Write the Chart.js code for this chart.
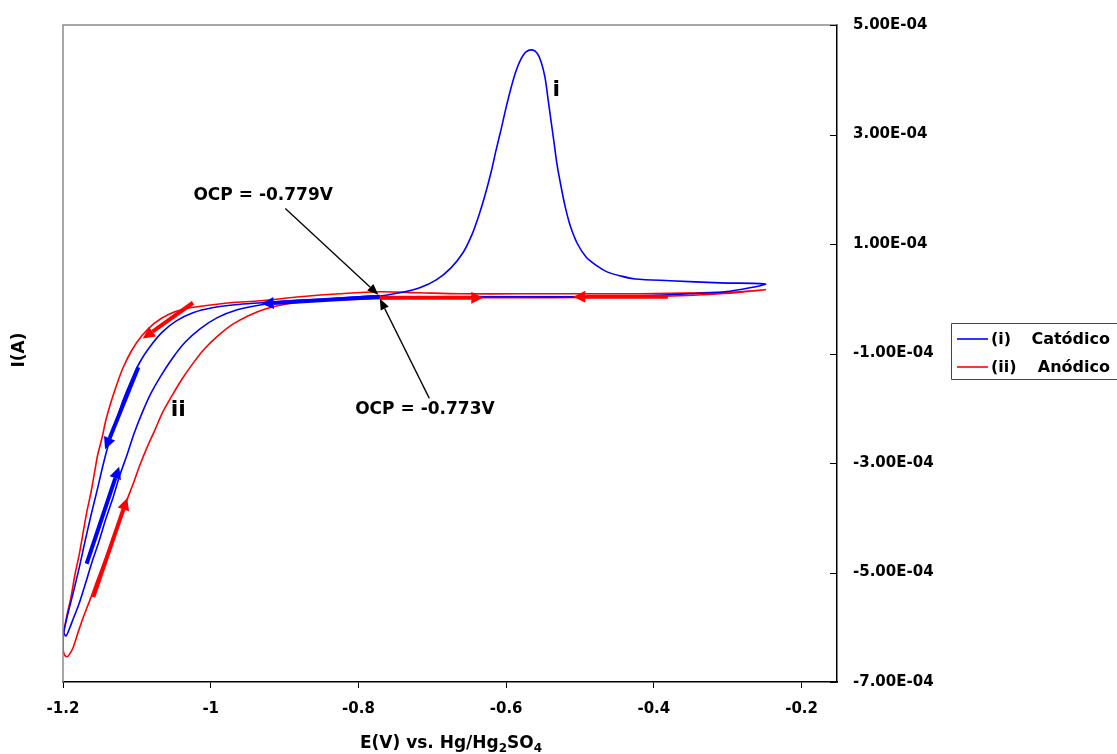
<!DOCTYPE html>
<html>
<head>
<meta charset="utf-8">
<script src="https://cdn.jsdelivr.net/npm/chart.js@4.4.1/dist/chart.umd.min.js"></script>
<style>
  html, body { margin: 0; padding: 0; background: #fff; }
</style>
</head>
<body>
<canvas id="cvChart" width="1117" height="754"></canvas>
<script>
// E (V vs Hg/Hg2SO4) and I (A)
// (i) cathodic run: OCP -> -1.2 V -> -0.25 V -> back
const catE = [-0.779, -0.838, -0.893, -0.931, -0.967, -0.998, -1.024, -1.046, -1.065, -1.081,
  -1.096, -1.108, -1.119, -1.128, -1.138, -1.146, -1.154, -1.162, -1.170, -1.178,
  -1.186, -1.193, -1.197, -1.199, -1.196,
  -1.192, -1.186, -1.178, -1.170, -1.161, -1.151, -1.142, -1.132, -1.123, -1.113,
  -1.104, -1.093, -1.081, -1.067, -1.052, -1.035, -1.014, -0.991, -0.964, -0.931,
  -0.893, -0.838, -0.779, -0.744, -0.717, -0.694, -0.675, -0.658, -0.646, -0.6367,
  -0.6286, -0.6204, -0.6137, -0.6069, -0.6001, -0.5934, -0.5866, -0.5798, -0.5731, -0.5649,
  -0.5582, -0.5527, -0.5473, -0.5433, -0.5392, -0.5351, -0.5311, -0.5257, -0.5202, -0.5135,
  -0.5040, -0.4918, -0.4769, -0.4634, -0.446, -0.425, -0.378, -0.310, -0.249,
  -0.270, -0.304, -0.351, -0.419, -0.500, -0.581, -0.662];
const catI = [5.5e-6, 0, -3.6e-6, -7.3e-6, -1.09e-5, -1.64e-5, -2.55e-5, -4.0e-5, -6.0e-5, -8.55e-5,
  -1.16e-4, -1.51e-4, -1.87e-4, -2.24e-4, -2.64e-4, -3.05e-4, -3.51e-4, -3.95e-4, -4.42e-4, -4.91e-4,
  -5.36e-4, -5.73e-4, -5.96e-4, -6.09e-4, -6.16e-4,
  -6.05e-4, -5.84e-4, -5.56e-4, -5.22e-4, -4.82e-4, -4.42e-4, -4.02e-4, -3.62e-4, -3.22e-4, -2.84e-4,
  -2.47e-4, -2.09e-4, -1.73e-4, -1.40e-4, -1.09e-4, -8.0e-5, -5.45e-5, -3.45e-5, -2.0e-5, -1.09e-5,
  -5.5e-6, -1.8e-6, 3.6e-6, 1.09e-5, 2.0e-5, 3.5e-5, 5.6e-5, 8.5e-5, 1.18e-4, 1.53e-4,
  1.89e-4, 2.31e-4, 2.71e-4, 3.09e-4, 3.49e-4, 3.85e-4, 4.16e-4, 4.38e-4, 4.51e-4, 4.545e-4,
  4.49e-4, 4.33e-4, 4.04e-4, 3.65e-4, 3.25e-4, 2.85e-4, 2.455e-4, 2.055e-4, 1.691e-4, 1.345e-4,
  1.018e-4, 7.64e-5, 6.0e-5, 4.91e-5, 4.2e-5, 3.6e-5, 3.3e-5, 2.9e-5, 2.7e-5,
  2.0e-5, 1.27e-5, 9.1e-6, 5.5e-6, 3.6e-6, 3.6e-6, 3.6e-6];

// (ii) anodic run: OCP -> -0.25 V -> -1.2 V -> OCP
const anE = [-0.773, -0.703, -0.634, -0.541, -0.446, -0.365, -0.310, -0.277, -0.249,
  -0.283, -0.337, -0.419, -0.500, -0.581, -0.662, -0.717, -0.771, -0.825, -0.879,
  -0.933, -0.974, -1.008, -1.035, -1.058, -1.077, -1.093, -1.107, -1.119, -1.128,
  -1.136, -1.142, -1.147, -1.153, -1.157, -1.162, -1.168, -1.173, -1.178, -1.184,
  -1.189, -1.195, -1.199, -1.200, -1.199, -1.195,
  -1.191, -1.186, -1.180, -1.172, -1.162, -1.153, -1.143, -1.134, -1.124, -1.115,
  -1.105, -1.096, -1.086, -1.075, -1.065, -1.052, -1.039, -1.024, -1.008, -0.990,
  -0.971, -0.949, -0.925, -0.895, -0.859, -0.818, -0.773];
const anI = [0, 1.8e-6, 1.8e-6, 1.8e-6, 3.6e-6, 5.5e-6, 9.1e-6, 1.27e-5, 1.64e-5,
  1.27e-5, 1.09e-5, 9.1e-6, 9.1e-6, 9.1e-6, 9.1e-6, 1.09e-5, 1.27e-5, 9.1e-6, 3.6e-6,
  -3.6e-6, -7.3e-6, -1.27e-5, -1.82e-5, -2.91e-5, -4.55e-5, -6.73e-5, -9.45e-5, -1.27e-4, -1.60e-4,
  -1.93e-4, -2.22e-4, -2.53e-4, -2.85e-4, -3.15e-4, -3.53e-4, -3.91e-4, -4.29e-4, -4.67e-4, -5.05e-4,
  -5.44e-4, -5.80e-4, -6.11e-4, -6.34e-4, -6.47e-4, -6.54e-4,
  -6.49e-4, -6.36e-4, -6.11e-4, -5.80e-4, -5.45e-4, -5.11e-4, -4.76e-4, -4.42e-4, -4.07e-4, -3.73e-4,
  -3.38e-4, -3.04e-4, -2.71e-4, -2.38e-4, -2.07e-4, -1.76e-4, -1.47e-4, -1.18e-4, -9.1e-5, -6.73e-5,
  -4.73e-5, -3.09e-5, -1.82e-5, -9.1e-6, -3.6e-6, -1.8e-6, 0];

const xTicks = [-1.2, -1, -0.8, -0.6, -0.4, -0.2];
const yTicks = [5e-4, 3e-4, 1e-4, -1e-4, -3e-4, -5e-4, -7e-4];
const legendTags = ['(i)', '(ii)'];
const legendNames = ['Catódico', 'Anódico'];

// sweep direction arrows [E tail, I tail, E head, I head]
const blueArrows = [[-0.771, 3.6e-6, -0.931, -9.1e-6], [-1.098, -1.25e-4, -1.143, -2.75e-4],
  [-1.168, -4.84e-4, -1.124, -3.07e-4]];
const redArrows = [[-0.771, 1.8e-6, -0.631, 1.8e-6], [-0.381, 3.6e-6, -0.509, 3.6e-6],
  [-1.024, -7.3e-6, -1.092, -7.27e-5], [-1.159, -5.45e-4, -1.113, -3.64e-4]];

// OCP callouts
const ocpLabels = ['OCP = -0.779V', 'OCP = -0.773V'];
const ocpTextAt = [[-0.929, 1.89e-4], [-0.710, -2.02e-4]];
const ocpFrom = [[-0.899, 1.65e-4], [-0.704, -1.82e-4]];
const ocpTo = [[-0.773, 7.3e-6], [-0.771, 0]];
const branchLabels = ['i', 'ii'];
const branchAt = [[-0.532, 3.80e-4], [-1.044, -2.04e-4]];

const FONT = '"DejaVu Sans", sans-serif';
const BLUE = '#0000ff', RED = '#ff0000';

const toPts = (xs, ys) => xs.map((x, i) => ({ x: x, y: ys[i] }));

const fmtSci = v => {
  const parts = v.toExponential(2).split('e');
  const ex = parseInt(parts[1], 10);
  return parts[0] + 'E' + (ex < 0 ? '-' : '+') + String(Math.abs(ex)).padStart(2, '0');
};

function arrow(c, x0, y0, x1, y1, w, len, half, color) {
  const a = Math.atan2(y1 - y0, x1 - x0);
  const bx = x1 - len * Math.cos(a), by = y1 - len * Math.sin(a);
  c.strokeStyle = color;
  c.lineWidth = w;
  c.beginPath();
  c.moveTo(x0, y0);
  c.lineTo(bx, by);
  c.stroke();
  c.fillStyle = color;
  c.beginPath();
  c.moveTo(x1, y1);
  c.lineTo(bx - half * Math.sin(a), by + half * Math.cos(a));
  c.lineTo(bx + half * Math.sin(a), by - half * Math.cos(a));
  c.closePath();
  c.fill();
}

const decor = {
  id: 'decor',
  afterDatasetsDraw(chart) {
    const c = chart.ctx, sx = chart.scales.x, sy = chart.scales.y;
    const px = v => sx.getPixelForValue(v), py = v => sy.getPixelForValue(v);
    c.save();
    c.lineCap = 'butt';
    blueArrows.forEach(a => arrow(c, px(a[0]), py(a[1]), px(a[2]), py(a[3]), 4, 12, 6, BLUE));
    redArrows.forEach(a => arrow(c, px(a[0]), py(a[1]), px(a[2]), py(a[3]), 4, 12, 6, RED));

    // OCP callouts
    c.font = 'bold 17px ' + FONT;
    c.textAlign = 'center';
    c.textBaseline = 'middle';
    ocpLabels.forEach((t, i) => {
      c.fillStyle = '#000';
      c.fillText(t, px(ocpTextAt[i][0]), py(ocpTextAt[i][1]));
      arrow(c, px(ocpFrom[i][0]), py(ocpFrom[i][1]), px(ocpTo[i][0]), py(ocpTo[i][1]), 1.3, 11, 4.5, '#000');
    });
    c.font = 'bold 22px ' + FONT;
    c.fillStyle = '#000';
    branchLabels.forEach((t, i) => c.fillText(t, px(branchAt[i][0]), py(branchAt[i][1])));
    c.restore();
  },
  afterDraw(chart) {
    const c = chart.ctx, a = chart.chartArea, sy = chart.scales.y;
    c.save();
    // grey left/top frame
    c.strokeStyle = '#8a8a8a';
    c.lineWidth = 1.5;
    c.beginPath();
    c.moveTo(a.left, a.bottom);
    c.lineTo(a.left, a.top);
    c.lineTo(a.right, a.top);
    c.stroke();
    // inward ticks on the right axis
    c.strokeStyle = '#000';
    c.lineWidth = 1;
    yTicks.forEach(v => {
      const y = Math.round(sy.getPixelForValue(v)) + 0.5;
      c.beginPath();
      c.moveTo(a.right - 7, y);
      c.lineTo(a.right, y);
      c.stroke();
    });

    // axis titles
    c.fillStyle = '#000';
    c.textBaseline = 'alphabetic';
    c.textAlign = 'left';
    const big = 'bold 17px ' + FONT, small = 'bold 12px ' + FONT;
    const parts = [['E(V) vs. Hg/Hg', big, 0], ['2', small, 4], ['SO', big, 0], ['4', small, 4]];
    let w = 0;
    parts.forEach(p => { c.font = p[1]; w += c.measureText(p[0]).width; });
    let x = 451 - w / 2;
    parts.forEach(p => { c.font = p[1]; c.fillText(p[0], x, 748 + p[2]); x += c.measureText(p[0]).width; });

    c.save();
    c.translate(24, 350);
    c.rotate(-Math.PI / 2);
    c.font = big;
    c.textAlign = 'center';
    c.fillText('I(A)', 0, 0);
    c.restore();

    // legend box
    c.strokeStyle = '#444';
    c.lineWidth = 1;
    c.fillStyle = '#fff';
    c.beginPath();
    c.rect(951.5, 323.5, 200, 56);
    c.fill();
    c.stroke();
    chart.data.datasets.forEach((ds, i) => {
      const y = 339 + i * 28;
      c.strokeStyle = ds.borderColor;
      c.lineWidth = 1.6;
      c.beginPath();
      c.moveTo(957, y);
      c.lineTo(988, y);
      c.stroke();
      c.fillStyle = '#000';
      c.font = 'bold 16px ' + FONT;
      c.textBaseline = 'middle';
      c.textAlign = 'left';
      c.fillText(legendTags[i], 991, y + 1);
      c.textAlign = 'right';
      c.fillText(legendNames[i], 1110, y + 1);
    });
    c.restore();
  }
};

const ctx = document.getElementById('cvChart').getContext('2d');
new Chart(ctx, {
  type: 'scatter',
  data: {
    datasets: [
      {
        label: legendTags[0] + ' ' + legendNames[0],
        data: toPts(catE, catI),
        borderColor: BLUE,
        backgroundColor: BLUE,
        showLine: true,
        pointRadius: 0,
        borderWidth: 1.6,
        tension: 0.3
      },
      {
        label: legendTags[1] + ' ' + legendNames[1],
        data: toPts(anE, anI),
        borderColor: RED,
        backgroundColor: RED,
        showLine: true,
        pointRadius: 0,
        borderWidth: 1.6,
        tension: 0.3
      }
    ]
  },
  options: {
    responsive: false,
    animation: false,
    devicePixelRatio: 1,
    layout: { padding: { left: 63, top: 22, right: 0, bottom: 0 } },
    plugins: { legend: { display: false }, tooltip: { enabled: false } },
    scales: {
      x: {
        type: 'linear',
        min: -1.2,
        max: -0.152,
        afterBuildTicks: s => { s.ticks = xTicks.map(v => ({ value: v })); },
        afterFit: s => { s.height = 72; },
        grid: { drawOnChartArea: false, tickLength: 6, color: '#000', lineWidth: 1 },
        border: { color: '#000', width: 1.5 },
        ticks: {
          color: '#000',
          padding: 12,
          maxRotation: 0,
          font: { family: FONT, size: 15, weight: 'bold' },
          callback: v => String(Math.round(v * 10) / 10)
        }
      },
      y: {
        type: 'linear',
        position: 'right',
        min: -7e-4,
        max: 5e-4,
        afterBuildTicks: s => { s.ticks = yTicks.map(v => ({ value: v })); },
        afterFit: s => { s.width = 280; },
        grid: { drawOnChartArea: false, drawTicks: false },
        border: { color: '#000', width: 1.5 },
        ticks: {
          color: '#000',
          padding: 16,
          font: { family: FONT, size: 15, weight: 'bold' },
          callback: v => fmtSci(v)
        }
      }
    }
  },
  plugins: [decor]
});
</script>
</body>
</html>
